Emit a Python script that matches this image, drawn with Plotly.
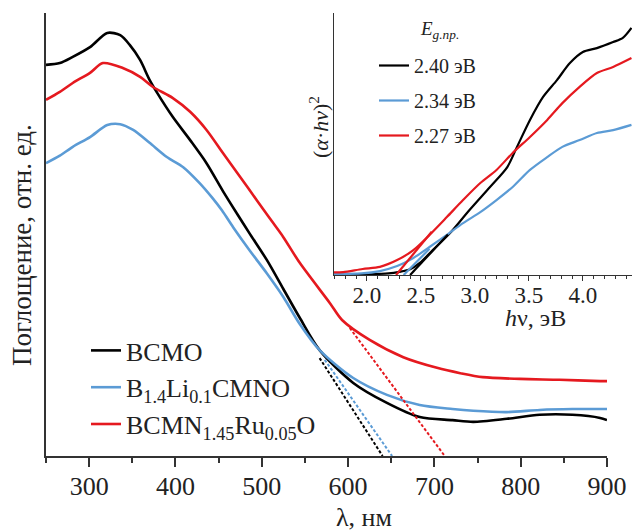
import plotly.graph_objects as go

# ---------------- main spectra (wavelength, nm ; absorbance, arb. units) ----------------
wl_bcmo = [250, 266, 281, 301, 321, 336, 347, 359, 370, 379, 397, 417, 436, 455, 471, 486,
           506, 525, 544, 567, 606, 645, 683, 721, 745, 784, 822, 860, 892, 900]
abs_bcmo = [88.3, 88.7, 90.1, 92.3, 95.5, 95.0, 92.8, 89.4, 84.9, 81.9, 76.5, 71.3, 66.1, 59.8,
            54.8, 50.2, 44.2, 37.7, 31.2, 23.9, 16.5, 12.0, 8.8, 8.1, 7.7, 8.4, 9.3, 9.3, 8.6,
            8.1]

wl_bli = [250, 266, 281, 301, 321, 336, 351, 370, 390, 409, 428, 443, 454, 467, 486, 506,
          525, 544, 567, 606, 645, 683, 721, 745, 784, 822, 860, 900]
abs_bli = [66.1, 67.8, 69.8, 72.0, 74.7, 74.9, 73.6, 70.7, 67.5, 65.2, 61.6, 58.2, 55.4, 51.6,
           46.4, 41.2, 35.9, 29.8, 23.9, 17.6, 13.8, 11.5, 10.6, 10.2, 9.9, 10.4, 10.6, 10.6]

wl_bru = [250, 266, 281, 301, 316, 339, 359, 374, 397, 417, 436, 455, 475, 494, 509, 525,
          544, 579, 593, 625, 664, 703, 730, 756, 799, 845, 892, 900]
abs_bru = [80.4, 82.2, 84.2, 86.5, 88.7, 87.6, 85.6, 83.3, 80.8, 77.7, 73.6, 68.4, 63.0, 57.8,
           53.7, 49.4, 43.6, 34.5, 30.7, 26.2, 22.3, 19.9, 18.7, 17.8, 17.4, 17.2, 16.9, 16.9]

# tangent extrapolations (dashed) to the wavelength axis
tan_bcmo_x = [567, 640]
tan_bcmo_y = [22.1, 0]
tan_bli_x = [573, 651]
tan_bli_y = [21.7, 0]
tan_bru_x = [602, 712]
tan_bru_y = [28.9, 0]

main_names = ["BCMO", "B<sub>1.4</sub>Li<sub>0.1</sub>CMNO", "BCMN<sub>1.45</sub>Ru<sub>0.05</sub>O"]
x_ticks = [300, 400, 500, 600, 700, 800, 900]

# ---------------- inset: Tauc plot (hv, eV ; (a*hv)^2, arb. units) ----------------
hv_bcmo = [1.69, 2.0, 2.2, 2.3, 2.40, 2.49, 2.61, 2.77, 2.95, 3.14, 3.30, 3.39, 3.51, 3.63,
           3.76, 3.88, 4.00, 4.13, 4.28, 4.37, 4.45]
t_bcmo = [0.2, 0.3, 0.6, 1.2, 2.2, 4.6, 9.5, 16.0, 24.8, 33.6, 41.2, 48.9, 59.2, 67.9, 74.4,
          80.9, 85.1, 86.6, 88.9, 90.5, 94.3]

hv_bli = [1.69, 1.95, 2.12, 2.28, 2.43, 2.58, 2.74, 2.89, 3.05, 3.20, 3.35, 3.51, 3.67, 3.81,
          3.97, 4.13, 4.28, 4.45]
t_bli = [0.4, 0.6, 1.5, 3.4, 6.5, 10.7, 15.3, 19.8, 24.0, 28.6, 33.6, 40.1, 45.0, 48.9, 51.5,
         54.2, 55.3, 57.3]

hv_bru = [1.69, 1.78, 1.96, 2.12, 2.28, 2.43, 2.58, 2.74, 2.89, 3.05, 3.20, 3.35, 3.51, 3.67,
          3.81, 3.97, 4.13, 4.28, 4.45]
t_bru = [1.0, 1.1, 2.3, 3.1, 5.7, 9.5, 15.3, 22.1, 28.6, 35.1, 40.1, 46.6, 52.7, 59.2, 65.6,
         71.8, 77.1, 79.4, 82.8]

# linear fits giving the band gaps
fit_bcmo_x = [2.40, 2.75]
fit_bcmo_y = [0, 15.5]
fit_bli_x = [2.34, 2.58]
fit_bli_y = [0, 10.0]
fit_bru_x = [2.27, 2.60]
fit_bru_y = [0, 16.5]

gap_names = ["2.40 эВ", "2.34 эВ", "2.27 эВ"]
inset_ticks = [2.0, 2.5, 3.0, 3.5, 4.0]

BLACK = "#000000"
BLUE = "#5B9BD5"
RED = "#E5191F"
AX = "#333333"
W, H = 633, 531

fig = go.Figure()

# main curves
for xs, ys, name, col in [(wl_bcmo, abs_bcmo, main_names[0], BLACK),
                          (wl_bli, abs_bli, main_names[1], BLUE),
                          (wl_bru, abs_bru, main_names[2], RED)]:
    fig.add_trace(go.Scatter(x=xs, y=ys, mode="lines", name=name,
                             line=dict(color=col, width=2.6, shape="spline", smoothing=0.8),
                             xaxis="x", yaxis="y", legend="legend"))
for xs, ys, col in [(tan_bcmo_x, tan_bcmo_y, BLACK), (tan_bli_x, tan_bli_y, BLUE),
                    (tan_bru_x, tan_bru_y, RED)]:
    fig.add_trace(go.Scatter(x=xs, y=ys, mode="lines", showlegend=False,
                             line=dict(color=col, width=2, dash="3px,2px"),
                             xaxis="x", yaxis="y"))

# inset curves
for xs, ys, name, col in [(hv_bcmo, t_bcmo, gap_names[0], BLACK),
                          (hv_bli, t_bli, gap_names[1], BLUE),
                          (hv_bru, t_bru, gap_names[2], RED)]:
    fig.add_trace(go.Scatter(x=xs, y=ys, mode="lines", name=name,
                             line=dict(color=col, width=2.2, shape="spline", smoothing=0.8),
                             xaxis="x2", yaxis="y2", legend="legend2", legendgroup=name))
for xs, ys, col in [(fit_bcmo_x, fit_bcmo_y, BLACK), (fit_bli_x, fit_bli_y, BLUE),
                    (fit_bru_x, fit_bru_y, RED)]:
    fig.add_trace(go.Scatter(x=xs, y=ys, mode="lines", showlegend=False,
                             line=dict(color=col, width=2.2),
                             xaxis="x2", yaxis="y2"))

FONT = "Liberation Serif"

fig.update_layout(
    width=W, height=H, autosize=False,
    margin=dict(l=0, r=0, t=0, b=0, pad=0),
    paper_bgcolor="white", plot_bgcolor="rgba(0,0,0,0)",
    font=dict(family=FONT, color="#222222", size=24),
    xaxis=dict(domain=[46 / W, 607 / W], range=[250, 900], anchor="y", automargin=False,
               showline=True, linecolor=AX, linewidth=1.5, showgrid=False, zeroline=False,
               ticks="outside", ticklen=9, tickwidth=1.5, tickcolor=AX,
               tickvals=x_ticks, tickfont=dict(size=26), ticklabelstandoff=-3,
               minor=dict(dtick=50, tick0=250, ticks="outside", ticklen=5, tickwidth=1.5,
                          tickcolor=AX)),
    yaxis=dict(domain=[75 / H, 518 / H], range=[0, 100], anchor="x", automargin=False,
               showline=True, linecolor=AX, linewidth=1.5, showgrid=False, zeroline=False,
               ticks="", showticklabels=False),
    xaxis2=dict(domain=[334 / W, 632 / W], range=[1.695, 4.455], anchor="y2",
                automargin=False,
                showline=True, linecolor=AX, linewidth=1.2, showgrid=False, zeroline=False,
                ticks="outside", ticklen=5, tickwidth=1.2, tickcolor=AX,
                tickvals=inset_ticks, tickformat=".1f", tickfont=dict(size=23),
                ticklabelstandoff=-6,
                minor=dict(dtick=0.1, tick0=2.0, ticks="outside", ticklen=3, tickwidth=1,
                           tickcolor=AX)),
    yaxis2=dict(domain=[256 / H, 518 / H], range=[0, 100], anchor="x2", automargin=False,
                showline=True, linecolor=AX, linewidth=1.2, showgrid=False, zeroline=False,
                ticks="", showticklabels=False),
    legend=dict(x=86 / W, y=(H - 327) / H, xanchor="left", yanchor="top",
                bgcolor="rgba(0,0,0,0)", font=dict(size=26, family=FONT),
                tracegroupgap=0),
    legend2=dict(x=374 / W, y=(H - 46) / H, xanchor="left", yanchor="top",
                 bgcolor="rgba(0,0,0,0)", font=dict(size=20, family=FONT),
                 tracegroupgap=6),
    showlegend=True,
    annotations=[
        dict(text="Поглощение, отн. ед.", x=22 / W, y=(H - 245) / H, xref="paper",
             yref="paper", textangle=-90, showarrow=False, font=dict(size=27),
             xanchor="center", yanchor="middle"),
        dict(text="λ, нм", x=364 / W, y=(H - 517) / H, xref="paper", yref="paper",
             showarrow=False, font=dict(size=26), xanchor="center", yanchor="middle"),
        dict(text="(<i>α</i>·<i>hν</i>)<sup>2</sup>", x=319 / W, y=(H - 127) / H,
             xref="paper", yref="paper", textangle=-90, showarrow=False,
             font=dict(size=22), xanchor="center", yanchor="middle"),
        dict(text="<i>h</i>ν, эВ", x=535 / W, y=(H - 318) / H, xref="paper", yref="paper",
             showarrow=False, font=dict(size=24), xanchor="center", yanchor="middle"),
        dict(text="<i>E</i><sub><i>g.пр.</i></sub>", x=439 / W, y=(H - 30) / H,
             xref="paper", yref="paper", showarrow=False, font=dict(size=19),
             xanchor="center", yanchor="middle"),
    ],
)

fig.write_html("out.html",
               config={"responsive": False, "displayModeBar": False},
               post_script="document.body.style.margin='0';")
